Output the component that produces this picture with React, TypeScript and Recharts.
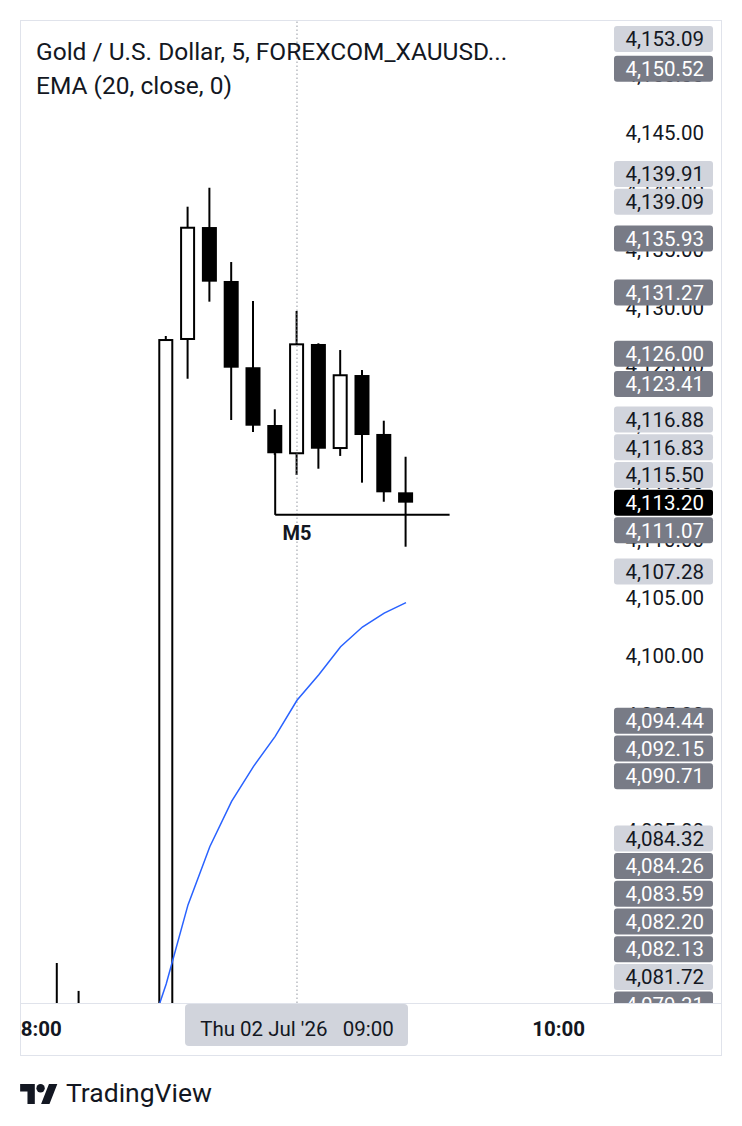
import React from 'react';
import {
  ComposedChart,
  Bar,
  Line,
  XAxis,
  YAxis,
  ReferenceLine,
  ReferenceDot,
  Customized,
} from 'recharts';
import * as Recharts from 'recharts';

// 5-minute bars, XAUUSD
const barTimes = [
  '07:55', '08:00', '08:05', '08:10', '08:15', '08:20', '08:25', '08:30', '08:35', '08:40',
  '08:45', '08:50', '08:55', '09:00', '09:05', '09:10', '09:15', '09:20', '09:25',
];
const opens = [
  4070.6, 4066.8, 4068.5, 4066.9, 4067.6, 4066.2, 4067.9, 4066.3, 4127.28, 4136.91,
  4132.27, 4124.85, 4119.88, 4117.45, 4126.85, 4117.9, 4124.18, 4119.11, 4114.09,
];
const highs = [
  4072.0, 4069.4, 4073.6, 4071.2, 4069.8, 4068.9, 4069.6, 4127.54, 4138.66, 4140.29,
  4133.9, 4130.55, 4121.23, 4129.69, 4126.91, 4126.33, 4124.61, 4120.25, 4117.15,
];
const lows = [
  4064.5, 4063.9, 4065.2, 4064.8, 4065.1, 4064.4, 4065.3, 4065.8, 4123.86, 4130.49,
  4120.31, 4119.28, 4117.3, 4115.58, 4116.12, 4117.22, 4114.92, 4113.28, 4109.41,
];
const closes = [
  4066.8, 4068.5, 4066.9, 4067.6, 4066.2, 4067.9, 4066.3, 4127.19, 4136.85, 4132.21,
  4124.81, 4119.82, 4117.45, 4126.82, 4117.84, 4124.16, 4119.02, 4114.09, 4113.2,
];
// EMA(20, close) from 08:25 onwards
const emaStart = '08:25';
const emaValues = [
  4066.2, 4071.8, 4078.6, 4083.6, 4087.5, 4090.5, 4093.1, 4096.2, 4098.4, 4100.8, 4102.5,
  4103.7, 4104.6,
];

const priceTicks = [
  4075, 4080, 4085, 4090, 4095, 4100, 4105, 4110, 4115, 4120, 4125, 4130, 4135, 4140, 4145, 4150,
];
const timeTicks = ['08:00', '09:00', '10:00'];
const crosshairTime = '09:00';
const crosshairLabel = "Thu 02 Jul '26   09:00";

// price scale tags: value + style
const tagValues = [
  4153.09, 4150.52, 4139.91, 4139.09, 4135.93, 4131.27, 4126.0, 4123.41, 4116.88, 4116.83,
  4115.5, 4113.2, 4111.07, 4107.28, 4094.44, 4092.15, 4090.71, 4084.32, 4084.26, 4083.59,
  4082.2, 4082.13, 4081.72, 4079.31,
];
const tagKinds = [
  'light', 'dark', 'light', 'light', 'dark', 'dark', 'dark', 'dark', 'light', 'light',
  'light', 'last', 'dark', 'light', 'dark', 'dark', 'dark', 'light', 'dark', 'dark',
  'dark', 'dark', 'light', 'dark',
];

// M5 drawing: drop from the 08:55 close, then run right
const m5Start = { time: '08:55', price: 4117.45 };
const m5Level = 4112.15;
const m5End = '09:35';
const m5LabelTime = '09:00';

const toMin = (s: string) => {
  const [h, m] = s.split(':').map(Number);
  return h * 60 + m;
};
const fmtTime = (v: number) =>
  `${String(Math.floor(v / 60)).padStart(2, '0')}:${String(v % 60).padStart(2, '0')}`;
const fmtPrice = (v: number) =>
  v.toLocaleString('en-US', { minimumFractionDigits: 2, maximumFractionDigits: 2 });

const X_DOMAIN = [476.47, 612.25];
const Y_DOMAIN = [4070.16, 4154.72];

const emaOffset = barTimes.indexOf(emaStart);
const data = barTimes.map((t, i) => ({
  t: toMin(t),
  o: opens[i],
  h: highs[i],
  l: lows[i],
  c: closes[i],
  ema: i >= emaOffset ? emaValues[i - emaOffset] : undefined,
}));

const FONT = 'Roboto, "Noto Sans", sans-serif';
const INK = '#131722';
const AXIS_FS = 20.5;

const Candle = (props: any) => {
  const { x, y, width, height, payload } = props;
  if (x == null || y == null) return null;
  const top = Math.min(y, y + height);
  const span = Math.abs(height);
  const ppu = span / (payload.h - payload.l);
  const py = (p: number) => top + (payload.h - p) * ppu;
  const cx = x + width / 2;
  const up = payload.c >= payload.o;
  const bTop = py(Math.max(payload.o, payload.c));
  const bBot = py(Math.min(payload.o, payload.c));
  return (
    <g>
      <line x1={cx} x2={cx} y1={py(payload.h)} y2={py(payload.l)} stroke="#000" strokeWidth={2} />
      {up ? (
        <rect x={x + 1} y={bTop} width={width - 2} height={Math.max(bBot - bTop, 1)} fill="#fff" stroke="#000" strokeWidth={2} />
      ) : (
        <rect x={x} y={bTop} width={width} height={Math.max(bBot - bTop, 1)} fill="#000" />
      )}
    </g>
  );
};

const TimeTick = (props: any) => {
  const { x, y, payload } = props;
  const v = payload.value;
  if (v === toMin(crosshairTime)) {
    return (
      <g>
        <rect x={x - 112} y={y + 1} width={223} height={42} rx={4} fill="#d1d4dc" />
        <text x={x} y={y + 33} textAnchor="middle" fill={INK} fontSize={AXIS_FS} fontFamily={FONT} style={{ whiteSpace: 'pre' }}>
          {crosshairLabel}
        </text>
      </g>
    );
  }
  return (
    <text x={x} y={y + 33} textAnchor="middle" fill={INK} fontSize={AXIS_FS} fontWeight={700} fontFamily={FONT}>
      {fmtTime(v)}
    </text>
  );
};

const TAG_H = 26;
const TAG_GAP = 27.7;
const tagFill: Record<string, string> = { light: '#d1d4dc', dark: '#787b86', last: '#000000' };
const tagText: Record<string, string> = { light: INK, dark: '#ffffff', last: '#ffffff' };

// Price scale: tick labels, then tags on top of them. Tags are pushed
// apart away from the last-price tag so none of them overlap.
const PriceScale = () => {
  const R: any = Recharts;
  const yScale = R.useYAxisScale ? R.useYAxisScale() : null;
  const plot = R.usePlotArea ? R.usePlotArea() : null;
  const area = plot || { x: 0, y: 0, width: 592, height: 983 };
  const toY = (v: number) => {
    if (typeof yScale === 'function') {
      const r = yScale(v);
      if (typeof r === 'number' && !Number.isNaN(r)) return r;
    }
    return area.y + ((Y_DOMAIN[1] - v) / (Y_DOMAIN[1] - Y_DOMAIN[0])) * area.height;
  };
  const items = tagValues.map((v, i) => ({ v, kind: tagKinds[i], y: toY(v) }));
  const pin = items.findIndex((d) => d.kind === 'last');
  for (let i = pin - 1; i >= 0; i--) items[i].y = Math.min(items[i].y, items[i + 1].y - TAG_GAP);
  for (let i = pin + 1; i < items.length; i++) items[i].y = Math.max(items[i].y, items[i - 1].y + TAG_GAP);
  const left = area.x + area.width + 2;
  const textX = left + 90;
  const base = AXIS_FS * 0.355;
  return (
    <g>
      <defs>
        <clipPath id="scale-clip">
          <rect x={left - 2} y={area.y} width={120} height={area.height} />
        </clipPath>
      </defs>
      <g clipPath="url(#scale-clip)">
        {priceTicks.map((v) => (
          <text key={v} x={textX} y={toY(v) + base} textAnchor="end" fill={INK} fontSize={AXIS_FS} fontFamily={FONT}>
            {fmtPrice(v)}
          </text>
        ))}
        {items.map((d, i) => (
          <g key={i}>
            <rect x={left} y={d.y - TAG_H / 2} width={99} height={TAG_H} rx={3} fill={tagFill[d.kind]} />
            <text x={textX} y={d.y + base} textAnchor="end" fill={tagText[d.kind]} fontSize={AXIS_FS} fontFamily={FONT}>
              {fmtPrice(d.v)}
            </text>
          </g>
        ))}
      </g>
    </g>
  );
};

export default function App() {
  return (
    <div style={{ position: 'absolute', left: 0, top: 0, width: 742, height: 1126, background: '#fff', fontFamily: FONT, color: INK }}>
      <div style={{ position: 'absolute', left: 20, top: 20 }}>
        <ComposedChart width={702} height={1035} data={data} margin={{ top: 0, right: 0, bottom: 0, left: 0 }}>
          <XAxis
            dataKey="t"
            type="number"
            domain={X_DOMAIN}
            allowDataOverflow
            ticks={timeTicks.map(toMin)}
            height={52}
            axisLine={false}
            tickLine={false}
            tickSize={0}
            tickMargin={0}
            tick={<TimeTick />}
          />
          <YAxis
            orientation="right"
            type="number"
            domain={Y_DOMAIN}
            allowDataOverflow
            ticks={priceTicks}
            width={110}
            axisLine={false}
            tickLine={false}
            tick={false}
          />
          <ReferenceLine x={toMin(crosshairTime)} stroke="#9598a1" strokeDasharray="1.5 2.5" strokeWidth={1} />
          <Bar dataKey={(d: any) => [d.l, d.h]} barSize={15} shape={<Candle />} isAnimationActive={false} />
          <Line
            dataKey="ema"
            type="linear"
            stroke="#2962ff"
            strokeWidth={1.5}
            dot={false}
            activeDot={false}
            isAnimationActive={false}
          />
          <ReferenceLine
            segment={[
              { x: toMin(m5Start.time), y: m5Start.price },
              { x: toMin(m5Start.time), y: m5Level },
            ]}
            stroke="#000"
            strokeWidth={2}
          />
          <ReferenceLine
            segment={[
              { x: toMin(m5Start.time), y: m5Level },
              { x: toMin(m5End), y: m5Level },
            ]}
            stroke="#000"
            strokeWidth={2}
          />
          <ReferenceDot
            x={toMin(m5LabelTime)}
            y={m5Level}
            r={0}
            fill="none"
            stroke="none"
            label={{ value: 'M5', position: 'bottom', offset: 11, fill: INK, fontSize: 20, fontWeight: 700, fontFamily: FONT }}
          />
          <Customized component={<PriceScale />} />
        </ComposedChart>
      </div>
      <div style={{ position: 'absolute', left: 20, top: 20, width: 702, height: 1036, border: '1px solid #e0e3eb', boxSizing: 'border-box', pointerEvents: 'none' }} />
      <div style={{ position: 'absolute', left: 20, top: 1003, width: 702, height: 1, background: '#e0e3eb' }} />
      <div style={{ position: 'absolute', left: 36, top: 35, fontSize: 24.5, lineHeight: '34px', whiteSpace: 'nowrap' }}>
        <div>Gold / U.S. Dollar, 5, FOREXCOM_XAUUSD...</div>
        <div>EMA (20, close, 0)</div>
      </div>
      <div style={{ position: 'absolute', left: 20, top: 1077, display: 'flex', alignItems: 'center', gap: 8 }}>
        <svg width={38} height={22} viewBox="0 0 36 21">
          <path d="M14 21H7V9H0V2h14v19zM28 21h-8l7.5-19h8L28 21z" fill={INK} />
          <circle cx={19.5} cy={6} r={4} fill={INK} />
        </svg>
        <span style={{ fontSize: 26.5 }}>TradingView</span>
      </div>
    </div>
  );
}
